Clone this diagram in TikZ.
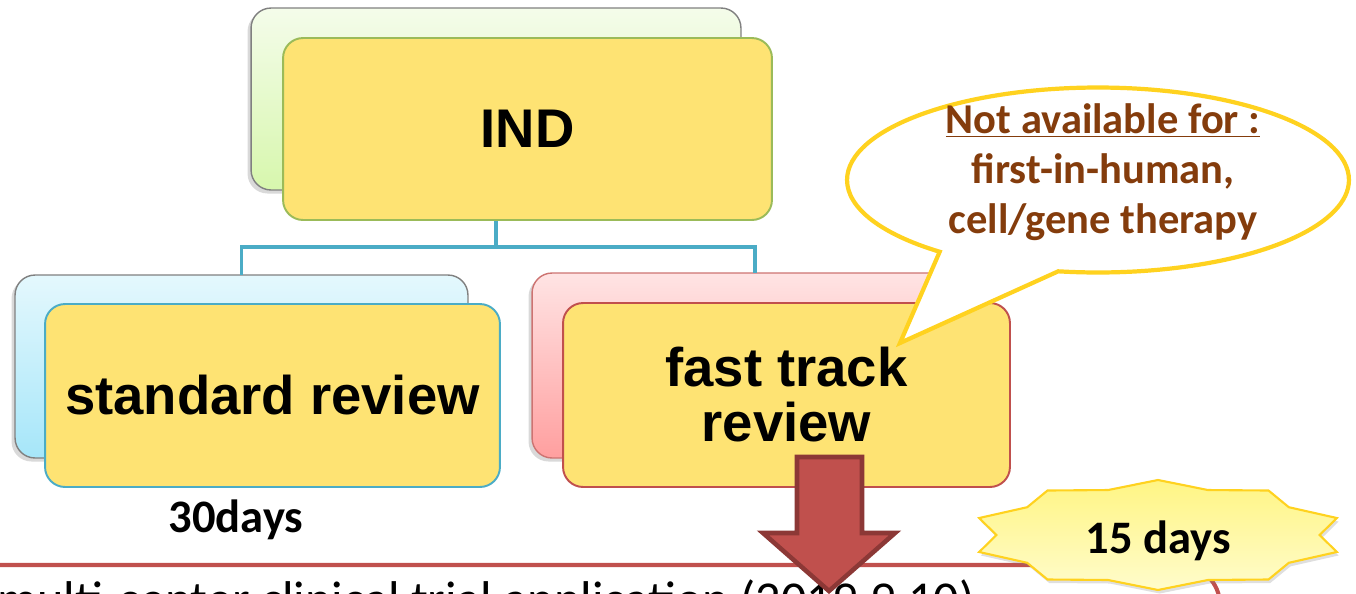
\documentclass[tikz,border=0pt]{standalone}
\usepackage{fontspec}
\setmainfont{Carlito}
\newfontfamily\arialfont{Liberation Sans}
\usetikzlibrary{shapes.callouts,shadows}
\definecolor{boxyellow}{HTML}{FEE373}
\definecolor{indgreen}{HTML}{9BBB59}
\definecolor{greentop}{HTML}{F4FCEA}
\definecolor{greenbot}{HTML}{D7F7AD}
\definecolor{stdblue}{HTML}{4BACC6}
\definecolor{bluetop}{HTML}{E4F8FD}
\definecolor{bluebot}{HTML}{A6E6F9}
\definecolor{fastred}{HTML}{C0504D}
\definecolor{pinktop}{HTML}{FFE4E4}
\definecolor{pinkbot}{HTML}{FF9F9F}
\definecolor{arrowdark}{HTML}{8C3836}
\definecolor{notegold}{HTML}{FFD21F}
\definecolor{notebrown}{HTML}{843C0C}
\definecolor{startop}{HTML}{FFF584}
\definecolor{starbot}{HTML}{FFFCCB}

\begin{document}
\begin{tikzpicture}[x=0.02cm, y=-0.02cm,
  backbox/.style={draw=gray, line width=0.8pt, rounded corners=0.4cm, inner sep=0pt, outer sep=0pt,
    drop shadow={shadow xshift=-2pt, shadow yshift=-2pt, opacity=0.3}},
  box/.style={draw, fill=boxyellow, line width=1.1pt, rounded corners=0.4cm, inner sep=0pt, outer sep=0pt,
    align=center, font=\arialfont\bfseries\fontsize{31}{31.3}\selectfont},
  link/.style={draw=stdblue, line width=2.2pt},
  daylabel/.style={font=\bfseries\fontsize{26.5}{30}\selectfont, anchor=base, inner sep=0pt}]
\useasboundingbox (0,0) rectangle (1356,593);

\node[backbox, top color=greentop, bottom color=greenbot, minimum width=9.8cm, minimum height=3.64cm] (indback) at (496,99) {};
\node[backbox, top color=bluetop, bottom color=bluebot, minimum width=9.06cm, minimum height=3.66cm] (stdback) at (241.5,366.5) {};
\node[backbox, draw=fastred!80, top color=pinktop, bottom color=pinkbot, minimum width=8.92cm, minimum height=3.7cm] (fastback) at (755,365.5) {};

\coordinate (fork) at (496,247);
\draw[link] (indback.south) -- (fork) -| (stdback.north);
\draw[link] (fork) -| (fastback.north);

\node[box, draw=indgreen, minimum width=9.78cm, minimum height=3.64cm] (ind) at (527.5,129) {IND};
\node[box, draw=stdblue, minimum width=9.1cm, minimum height=3.66cm] (std) at (272.5,395.5) {standard review};
\node[box, draw=fastred, minimum width=8.94cm, minimum height=3.68cm] (fast) at (786.5,395) {fast track\\review};

\node[ellipse callout, draw=notegold, line width=2.4pt, fill=white, inner sep=0pt,
  minimum width=10.04cm, minimum height=3.7cm,
  callout absolute pointer={(900,343)}, callout pointer arc=30] (note) at (1098,180) {};
\node[align=center, text=notebrown, font=\bfseries\fontsize{24.2}{28.5}\selectfont] (notetext) at (1103,172)
  {\underline{Not available for :}\\first-in-human,\\cell/gene therapy};

\node[daylabel] (std days) at (236,532) {30days};

\draw[fastred, line width=2.3pt, rounded corners=0.8cm] (-20,565) -- (1220,565) -- (1220,660);
\node[anchor=base west, inner sep=0pt, font=\fontsize{28.6}{32}\selectfont] (trial) at (-3,616)
  {multi-center clinical trial application (2019.9.10)};

\draw[draw=notegold, line width=1.2pt, top color=startop, bottom color=starbot,
  drop shadow={shadow xshift=1pt, shadow yshift=-2pt, opacity=0.25}]
  (1158,480) \foreach \i in {1,...,19} {
    -- ({1158+188*(1-0.14*mod(\i,2))*cos(90+18*\i)}, {535-55*(1-0.14*mod(\i,2))*sin(90+18*\i)}) } -- cycle;
\node[daylabel] (fast days) at (1158,553) {15 days};

\draw[fill=fastred, draw=arrowdark, line width=2.6pt, line join=miter]
  (797,457) -- (862,457) -- (862,533) -- (895,533) -- (829,591) -- (763,533) -- (797,533) -- cycle;
\end{tikzpicture}
\end{document}
